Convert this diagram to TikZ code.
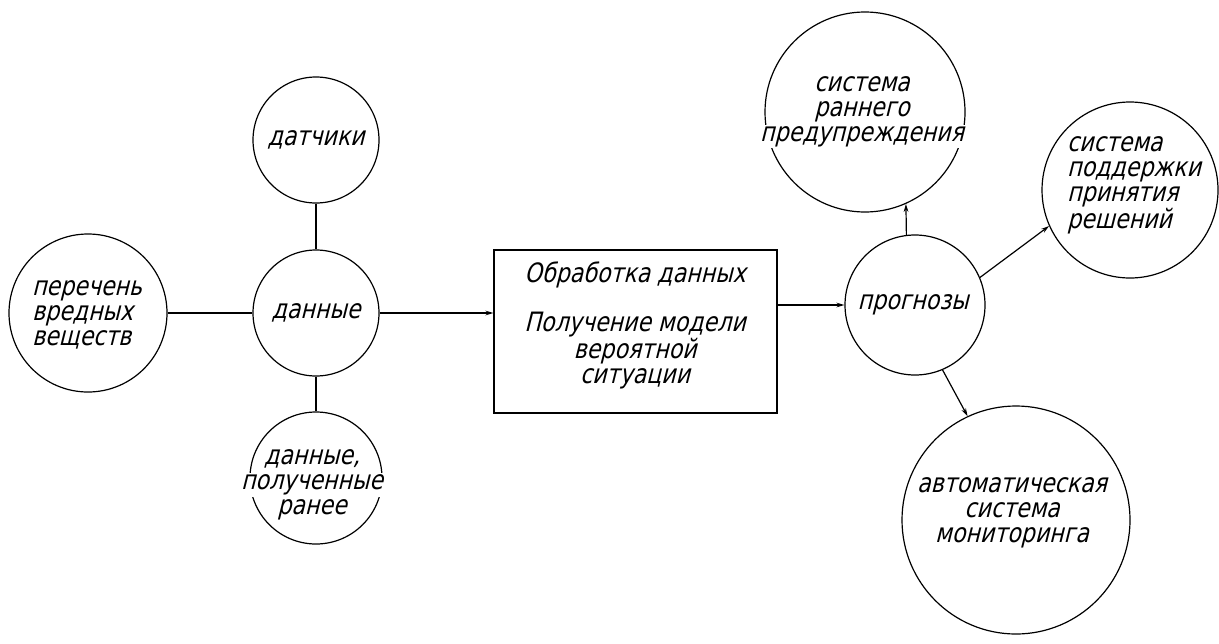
\documentclass[tikz,border=0pt]{standalone}
\usepackage{fontspec}
\newfontfamily\gostfont[FakeSlant=0.25,FakeStretch=0.83]{DejaVu Sans}
\usetikzlibrary{
    positioning,      % For placing nodes relative to each other
    arrows.meta,      % For modern arrow tips
    calc              % For coordinate calculations
}
% White backing for a text line that crosses a circle
\newcommand{\cutline}[1]{{\setlength{\fboxsep}{1pt}\colorbox{white}{#1}}}

\begin{document}
\begin{tikzpicture}[
    % Global style settings (one unit = one pixel of the sketch)
    x=0.75pt, y=-0.75pt,
    line_style/.style={
        color=black,
        line width=0.9pt
    },
    arrow_tip/.style={
        -{Stealth[length=6pt, width=3.5pt]}
    },
    bubble/.style={ % Circle of given radius (in pixels)
        line_style, draw, circle,
        inner sep=0pt,
        minimum size=#1*1.5pt
    },
    box_style/.style={ % The processing block
        line_style, draw, rectangle,
        minimum width=283*0.75pt,
        minimum height=163*0.75pt
    },
    text_style/.style={ % Slanted drafting-like labels
        font=\gostfont\fontsize{20}{18.75}\selectfont,
        align=center,
        inner sep=0pt
    }
]
    \useasboundingbox (0,0) rectangle (1219,643);

    % 1. Input circles around the data node.
    \node[bubble=63] (sensors) at (316,140) {};
    \node[bubble=63] (data) at (316,313) {};
    \node[bubble=79] (hazards) at (88,313) {};
    \node[bubble=66] (archive) at (316,478) {};

    % 2. Processing block in the middle.
    \node[box_style] (processing) at (635.5,331.5) {};

    % 3. Forecast node and the three systems it feeds.
    \node[bubble=70] (forecasts) at (915,305) {};
    \node[bubble=100] (warning) at (865,112) {};
    \node[bubble=88] (decision) at (1130,190) {};
    \node[bubble=114] (monitoring) at (1016,520) {};

    % 4. Labels (drawn over the circles, so long lines cut the border).
    \node[text_style] (sensors_text) at (316,140) {датчики};
    \node[text_style] (data_text) at (316,313) {данные};
    \node[text_style, align=left] (hazards_text) at (87,315) {перечень\\вредных\\веществ};
    \node[text_style] (archive_text) at (312,485) {данные,\\\cutline{полученные}\\ранее};
    \node[text_style] (processing_text) at (635,325)
        {Обработка данных\\[18pt]Получение модели\\вероятной\\ситуации};
    \node[text_style] (forecasts_text) at (913,305) {прогнозы};
    \node[text_style] (warning_text) at (862,112) {система\\раннего\\\cutline{предупреждения}};
    \node[text_style, align=left] (decision_text) at (1134,185) {система\\поддержки\\принятия\\решений};
    \node[text_style] (monitoring_text) at (1012,512) {\cutline{автоматическая}\\система\\мониторинга};

    % 5. Plain links between the input circles.
    \draw[line_style] (sensors) -- (data);
    \draw[line_style] (data) -- (archive);
    \draw[line_style] (hazards) -- (data);

    % 6. Arrows through the processing block to the outputs.
    \draw[line_style, arrow_tip] (data.east) -- (processing.west |- data.east);
    \draw[line_style, arrow_tip] (processing.east |- forecasts.west) -- (forecasts.west);
    \draw[line_style, arrow_tip] (forecasts.97) -- (warning.-66);
    \draw[line_style, arrow_tip] (forecasts.23) -- (decision.204);
    \draw[line_style, arrow_tip] (forecasts.-67) -- (monitoring.115);

\end{tikzpicture}
\end{document}
